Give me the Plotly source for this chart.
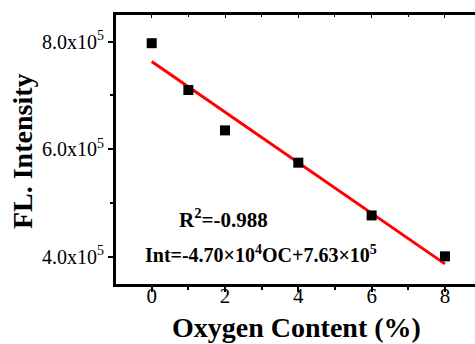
import numpy as np
import plotly.graph_objects as go

# Data
oxygen_content = [0, 1, 2, 4, 6, 8]
fl_intensity = [7.97e5, 7.10e5, 6.35e5, 5.75e5, 4.77e5, 4.01e5]
fit_slope = -4.70e4
fit_intercept = 7.63e5
y_tick_vals = [4.0e5, 6.0e5, 8.0e5]
y_tick_text = ["4.0x10<sup>5</sup>", "6.0x10<sup>5</sup>", "8.0x10<sup>5</sup>"]
x_tick_vals = [0, 2, 4, 6, 8]
x_title = "Oxygen Content (%)"
y_title = "FL. Intensity"
r2_text = "R<sup>2</sup>=-0.988"
eq_text = "Int=-4.70×10<sup>4</sup>OC+7.63×10<sup>5</sup>"

fit_x = np.array([oxygen_content[0], oxygen_content[-1]], dtype=float)
fit_y = fit_slope * fit_x + fit_intercept

FONT = "Liberation Serif"

fig = go.Figure()
fig.add_trace(go.Scatter(x=fit_x, y=fit_y, mode="lines",
                         line=dict(color="#ff0000", width=3), showlegend=False))
fig.add_trace(go.Scatter(x=oxygen_content, y=fl_intensity, mode="markers",
                         marker=dict(symbol="square", size=10, color="black"),
                         showlegend=False))
# invisible trace to activate top axis
fig.add_trace(go.Scatter(x=[None], y=[None], xaxis="x2", showlegend=False))

fig.add_annotation(x=1.97, y=4.72e5, text=r2_text, showarrow=False,
                   font=dict(family=FONT, size=21, color="black", weight="bold"),
                   xanchor="center", yanchor="middle")
fig.add_annotation(x=2.98, y=4.05e5, text=eq_text, showarrow=False,
                   font=dict(family=FONT, size=20, color="black", weight="bold"),
                   xanchor="center", yanchor="middle")
fig.add_annotation(xref="paper", yref="paper", x=0.504, y=-0.16, text=x_title,
                   showarrow=False, xanchor="center", yanchor="middle",
                   font=dict(family=FONT, size=28, color="black", weight="bold"))
fig.add_annotation(xref="paper", yref="paper", x=-0.262, y=0.494, text=y_title,
                   showarrow=False, xanchor="center", yanchor="middle", textangle=-90,
                   font=dict(family=FONT, size=28, color="black", weight="bold"))

fig.update_layout(
    template="none",
    width=475, height=344,
    margin=dict(l=116, r=0, t=15, b=60),
    paper_bgcolor="white", plot_bgcolor="white",
    font=dict(family=FONT, color="black"),
    xaxis=dict(
        automargin=False,
        range=[-0.974, 8.82], tickvals=x_tick_vals, ticktext=[str(v) for v in x_tick_vals],
        ticks="outside", ticklen=5, tickwidth=2, tickcolor="black",
        ticklabelstandoff=-14,
        minor=dict(dtick=1, ticks="outside", ticklen=3, tickwidth=2, tickcolor="black", showgrid=False),
        showline=True, linewidth=3, linecolor="black", showgrid=False, zeroline=False,
        tickfont=dict(family=FONT, size=21, color="black"),
    ),
    xaxis2=dict(
        automargin=False,
        overlaying="x", matches="x", side="top", range=[-0.974, 8.82],
        tickvals=x_tick_vals, showticklabels=False,
        ticks="inside", ticklen=3, tickwidth=1, tickcolor="black",
        minor=dict(dtick=1, ticks="inside", ticklen=2, tickwidth=1, tickcolor="black", showgrid=False),
        showline=True, linewidth=3, linecolor="black", showgrid=False, zeroline=False,
    ),
    yaxis=dict(
        automargin=False,
        range=[3.496e5, 8.494e5], tickvals=y_tick_vals, ticktext=y_tick_text,
        ticks="outside", ticklen=5, tickwidth=2, tickcolor="black",
        minor=dict(dtick=1e5, tick0=0, ticks="outside", ticklen=3, tickwidth=2, tickcolor="black", showgrid=False),
        showline=True, linewidth=3, linecolor="black", showgrid=False, zeroline=False,
        tickfont=dict(family=FONT, size=20, color="black"),
    ),
)

fig.write_html("out.html", config={"displayModeBar": False},
               post_script="document.body.style.margin='0px';document.body.style.padding='0px';")
